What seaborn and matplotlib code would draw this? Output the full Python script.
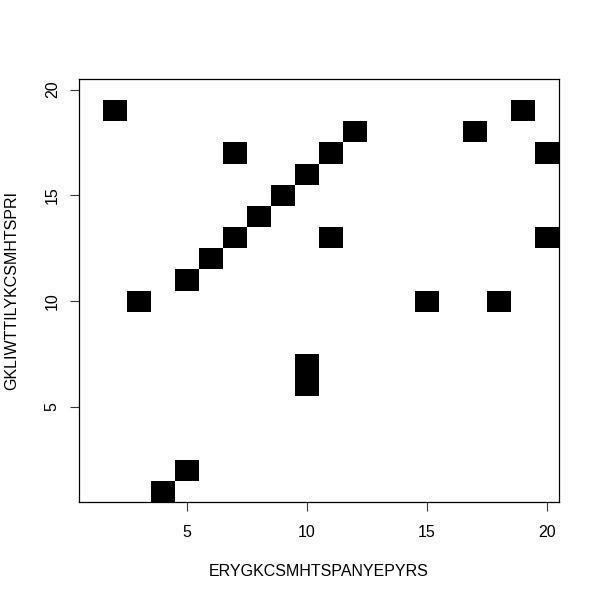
import numpy as np
import pandas as pd
import matplotlib
matplotlib.use("Agg")
import matplotlib.pyplot as plt
import seaborn as sns
from matplotlib.colors import ListedColormap

# Sequences compared in the dot plot (x: columns, y: rows)
seq_x = list("ERYGKCSMHTSPANYEPYRS")
seq_y = list("GKLIWTTILYKCSMHTSPRI")
tick_values = [5, 10, 15, 20]
x_label = "ERYGKCSMHTSPANYEPYRS"
y_label = "GKLIWTTILYKCSMHTSPRI"

plt.rcParams["font.family"] = ["Liberation Sans", "DejaVu Sans"]

# match matrix: rows = positions in seq_y, columns = positions in seq_x
match = np.array([[1 if a == b else 0 for a in seq_x] for b in seq_y])
df = pd.DataFrame(match, index=range(1, len(seq_y) + 1), columns=range(1, len(seq_x) + 1))

W = H = 600
fig = plt.figure(figsize=(6, 6), dpi=100)
left, right, top, bottom = 78.5, 559.3, 79.0, 502.0
ax = fig.add_axes([left / W, 1 - bottom / H, (right - left) / W, (bottom - top) / H])

sns.heatmap(df, ax=ax, cmap=ListedColormap(["white", "black"]), cbar=False,
            vmin=0, vmax=1, linewidths=0)

ax.set_xlim(0, len(seq_x))
ax.set_ylim(0, len(seq_y))

for s in ax.spines.values():
    s.set_visible(True)
    s.set_color("black")
    s.set_linewidth(0.9)

ax.set_xticks([v - 0.5 for v in tick_values])
ax.set_xticklabels([str(v) for v in tick_values], rotation=0)
ax.set_yticks([v - 0.5 for v in tick_values])
ax.set_yticklabels([str(v) for v in tick_values], rotation=90, va="center")

ax.tick_params(axis="both", direction="out", length=6.5, width=0.8, color="#333333",
               labelsize=11.5, labelcolor="black")
ax.tick_params(axis="x", pad=10)
ax.tick_params(axis="y", pad=7)

ax.set_xlabel("")
ax.set_ylabel("")
fig.text((left + right) / 2 / W, 1 - 572 / H, x_label, ha="center", va="center", fontsize=11.5)
fig.text(12 / W, 1 - (top + bottom) / 2 / H, y_label, ha="center", va="center",
         rotation=90, fontsize=11.5)

fig.savefig("out.png", dpi=100)
